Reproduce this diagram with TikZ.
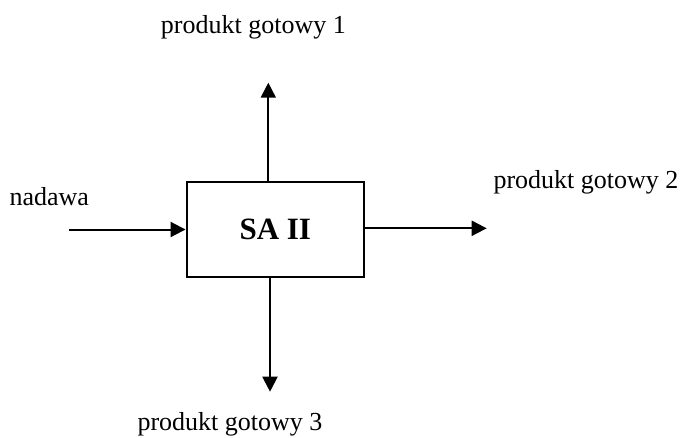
\documentclass[tikz,border=0pt]{standalone}
\usepackage{fontspec}
\setmainfont{Liberation Serif}
\usetikzlibrary{arrows.meta}
\begin{document}
\begin{tikzpicture}[x=1pt,y=1pt,
  blockbox/.style={draw,line width=2.5pt,minimum width=177pt,minimum height=95pt,inner sep=0pt,font=\fontsize{31}{36}\selectfont\bfseries},
  lbl/.style={anchor=base west,inner sep=0pt,font=\fontsize{26}{30}\selectfont},
  arr/.style={line width=2pt,-{Triangle[length=15pt,width=15pt]}}]
\useasboundingbox (0,0) rectangle (685,-437);
\node[blockbox] (box) at (275.3,-229.5) {SA II};
\node[lbl] (lin) at (9.3,-205) {nadawa};
\node[lbl] (l1) at (160.7,-33) {produkt gotowy 1};
\node[lbl] (l2) at (493.3,-188) {produkt gotowy 2};
\node[lbl] (l3) at (137.3,-430) {produkt gotowy 3};
\coordinate (in) at (69.3,-229.5);
\coordinate (t1) at (268.3,-82.7);
\coordinate (t2) at (486.7,-228.3);
\coordinate (t3) at (270,-391.7);
\draw[arr] (in) -- (in -| box.west);
\draw[arr] (t1 |- box.north) -- (t1);
\draw[arr] (box.east |- t2) -- (t2);
\draw[arr] (t3 |- box.south) -- (t3);
\end{tikzpicture}
\end{document}
